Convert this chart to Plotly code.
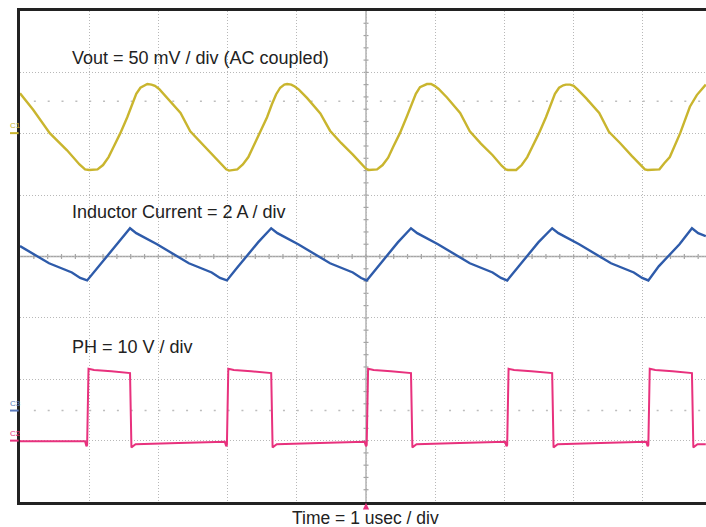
import plotly.graph_objects as go

# ---------------- data (time in usec, amplitude in screen divisions) ----------------
vout_t = [0.00, 0.19, 0.43, 0.68, 0.86, 0.94,
          1.00, 1.12, 1.20, 1.28, 1.35, 1.45, 1.55, 1.62, 1.68, 1.74, 1.80, 1.84, 1.90, 1.95, 2.01, 2.13, 2.32, 2.46, 2.62, 2.79, 2.92, 2.98,
          3.02, 3.14, 3.22, 3.30, 3.37, 3.47, 3.57, 3.64, 3.70, 3.76, 3.82, 3.86, 3.92, 3.97, 4.03, 4.15, 4.34, 4.48, 4.64, 4.81, 4.94, 5.00,
          5.04, 5.16, 5.24, 5.32, 5.39, 5.49, 5.59, 5.66, 5.72, 5.78, 5.84, 5.88, 5.94, 5.99, 6.05, 6.17, 6.36, 6.50, 6.66, 6.83, 6.96, 7.02,
          7.05, 7.17, 7.25, 7.33, 7.40, 7.50, 7.60, 7.67, 7.73, 7.79, 7.85, 7.89, 7.95, 8.00, 8.06, 8.18, 8.37, 8.51, 8.67, 8.84, 8.97, 9.03,
          9.07, 9.17, 9.24, 9.31, 9.39, 9.54, 9.68, 9.78, 9.91]
vout_v = [6.66, 6.39, 6.01, 5.73, 5.50, 5.42,
          5.41, 5.42, 5.49, 5.62, 5.78, 6.01, 6.27, 6.49, 6.65, 6.75, 6.79, 6.81, 6.80, 6.78, 6.73, 6.58, 6.34, 6.04, 5.85, 5.65, 5.49, 5.42,
          5.40, 5.42, 5.50, 5.62, 5.79, 6.02, 6.27, 6.48, 6.64, 6.75, 6.80, 6.81, 6.80, 6.77, 6.72, 6.58, 6.33, 6.05, 5.85, 5.66, 5.49, 5.43,
          5.41, 5.42, 5.49, 5.61, 5.78, 6.01, 6.28, 6.49, 6.65, 6.76, 6.79, 6.81, 6.81, 6.78, 6.73, 6.59, 6.34, 6.04, 5.84, 5.65, 5.48, 5.42,
          5.41, 5.41, 5.49, 5.62, 5.78, 6.01, 6.27, 6.48, 6.65, 6.75, 6.79, 6.80, 6.80, 6.78, 6.72, 6.58, 6.34, 6.03, 5.85, 5.64, 5.49, 5.42,
          5.41, 5.41, 5.42, 5.52, 5.62, 6.01, 6.44, 6.63, 6.80]

il_t = [0.00, 0.42, 0.75, 0.87,
        0.97, 1.12, 1.27, 1.42, 1.59, 1.68, 1.98, 2.44, 2.77, 2.89,
        2.99, 3.14, 3.29, 3.44, 3.63, 3.72, 4.02, 4.48, 4.81, 4.93,
        5.01, 5.16, 5.31, 5.46, 5.65, 5.74, 6.04, 6.50, 6.83, 6.95,
        7.04, 7.19, 7.34, 7.49, 7.69, 7.78, 8.08, 8.54, 8.87, 8.99,
        9.08, 9.23, 9.38, 9.53, 9.71, 9.80, 9.91]
il_v = [4.17, 3.89, 3.74, 3.65,
        3.61, 3.82, 4.02, 4.23, 4.46, 4.38, 4.20, 3.89, 3.74, 3.65,
        3.61, 3.82, 4.02, 4.23, 4.46, 4.38, 4.20, 3.89, 3.74, 3.65,
        3.61, 3.82, 4.02, 4.23, 4.46, 4.38, 4.20, 3.89, 3.74, 3.65,
        3.61, 3.82, 4.02, 4.23, 4.46, 4.38, 4.20, 3.89, 3.74, 3.65,
        3.61, 3.84, 4.02, 4.20, 4.46, 4.38, 4.33]

ph_t = [0.00,
        0.94, 0.96, 0.97, 0.99, 1.07, 1.32, 1.57, 1.59, 1.61, 1.67, 2.29,
        2.96, 2.98, 2.99, 3.01, 3.09, 3.34, 3.61, 3.63, 3.65, 3.71, 4.33,
        4.98, 5.00, 5.01, 5.03, 5.11, 5.36, 5.63, 5.65, 5.67, 5.73, 6.35,
        7.01, 7.03, 7.04, 7.06, 7.14, 7.39, 7.67, 7.69, 7.71, 7.77, 8.39,
        9.05, 9.07, 9.08, 9.10, 9.18, 9.43, 9.69, 9.71, 9.73, 9.79, 9.91]
ph_v = [0.99,
        0.99, 0.91, 0.93, 2.17, 2.15, 2.13, 2.11, 2.10, 0.89, 0.94, 0.96,
        0.98, 0.91, 0.93, 2.17, 2.15, 2.13, 2.11, 2.10, 0.89, 0.94, 0.96,
        0.98, 0.91, 0.93, 2.17, 2.15, 2.13, 2.11, 2.10, 0.89, 0.94, 0.96,
        0.98, 0.91, 0.93, 2.17, 2.15, 2.13, 2.11, 2.10, 0.89, 0.94, 0.96,
        0.98, 0.91, 0.93, 2.17, 2.15, 2.13, 2.11, 2.10, 0.89, 0.94, 0.94]

labels = ["Vout = 50 mV / div (AC coupled)", "Inductor Current = 2 A / div", "PH = 10 V / div"]
label_y = [7.235, 4.731, 2.520]
time_label = "Time = 1 usec / div"
channel_names = ["C1", "C3", "C2"]
channel_ref = [6.01, 1.49, 1.00]

# ---------------- styling ----------------
C_VOUT = "#C9B52E"
C_IL = "#2E5BAA"
C_PH = "#E8317D"
CH_COLORS = [C_VOUT, "#5B7BBE", C_PH]
FONT = "Arial, Liberation Sans, sans-serif"
XMAX = 9.913

fig = go.Figure()
fig.add_trace(go.Scatter(x=vout_t, y=vout_v, mode="lines",
                         line=dict(color=C_VOUT, width=2.4), hoverinfo="skip"))
fig.add_trace(go.Scatter(x=il_t, y=il_v, mode="lines",
                         line=dict(color=C_IL, width=2.4), hoverinfo="skip"))
fig.add_trace(go.Scatter(x=ph_t, y=ph_v, mode="lines",
                         line=dict(color=C_PH, width=2.0), hoverinfo="skip"))

shapes = []
# centre cross with minor ticks
shapes.append(dict(type="line", xref="x", yref="y", x0=5, x1=5, y0=0, y1=8,
                   line=dict(color="#a5a5a5", width=1.3), layer="below"))
shapes.append(dict(type="line", xref="x", yref="y", x0=0, x1=XMAX, y0=4, y1=4,
                   line=dict(color="#a5a5a5", width=1.3), layer="below"))
for i in range(1, 40):
    yy = i * 0.2
    shapes.append(dict(type="line", xref="x", yref="y", x0=5 - 0.036, x1=5 + 0.036,
                       y0=yy, y1=yy, line=dict(color="#a5a5a5", width=1.2), layer="below"))
for i in range(1, 50):
    xx = i * 0.2
    shapes.append(dict(type="line", xref="x", yref="y", x0=xx, x1=xx,
                       y0=4 - 0.04, y1=4 + 0.04, line=dict(color="#a5a5a5", width=1.2), layer="below"))
# sparse dotted rows
for yy in (6.53, 1.49):
    shapes.append(dict(type="line", xref="x", yref="y", x0=0.2, x1=XMAX, y0=yy, y1=yy,
                       line=dict(color="#bdbdbd", width=1.5, dash="2px,11.84px"), layer="below"))
# channel reference markers
for ref, col in zip(channel_ref, CH_COLORS):
    shapes.append(dict(type="line", xref="paper", yref="y", x0=-0.0146, x1=-0.002,
                       y0=ref, y1=ref, line=dict(color=col, width=2)))
# trigger marker
shapes.append(dict(type="path", xref="x", yref="paper",
                   path="M 4.955,-0.0155 L 5.045,-0.0155 L 5.0,-0.0015 Z",
                   fillcolor=C_PH, line=dict(color=C_PH, width=0)))

annotations = []
for txt, yy in zip(labels, label_y):
    annotations.append(dict(text=txt, xref="paper", yref="y", x=0.0729, y=yy,
                            xanchor="left", yanchor="middle", showarrow=False,
                            font=dict(family=FONT, size=18, color="#222222")))
annotations.append(dict(text=time_label, xref="paper", yref="paper", x=0.503, y=-0.0326,
                        xanchor="center", yanchor="middle", showarrow=False, borderpad=0,
                        font=dict(family=FONT, size=17.5, color="#222222")))
for name, ref, col in zip(channel_names, channel_ref, CH_COLORS):
    annotations.append(dict(text=name, xref="paper", yref="y", x=-0.0175, y=ref + 0.12,
                            xanchor="left", yanchor="middle", showarrow=False,
                            font=dict(family=FONT, size=8, color=col)))

axis_common = dict(showticklabels=False, ticks="", zeroline=False, showgrid=True,
                   gridcolor="#b8b8b8", gridwidth=1, griddash="1px,2px", dtick=1, tick0=0,
                   showline=True, linecolor="#222222", linewidth=3, fixedrange=True)

fig.update_layout(
    width=706, height=527,
    margin=dict(l=20, r=0, t=11, b=25),
    paper_bgcolor="white", plot_bgcolor="white",
    showlegend=False,
    xaxis=dict(range=[0, XMAX], mirror=True, **axis_common),
    yaxis=dict(range=[0, 8], mirror=False, **axis_common),
    shapes=shapes,
    annotations=annotations,
)

fig.write_html("out.html", config={"displayModeBar": False},
               post_script="document.body.style.margin='0px';document.body.style.overflow='hidden';")
